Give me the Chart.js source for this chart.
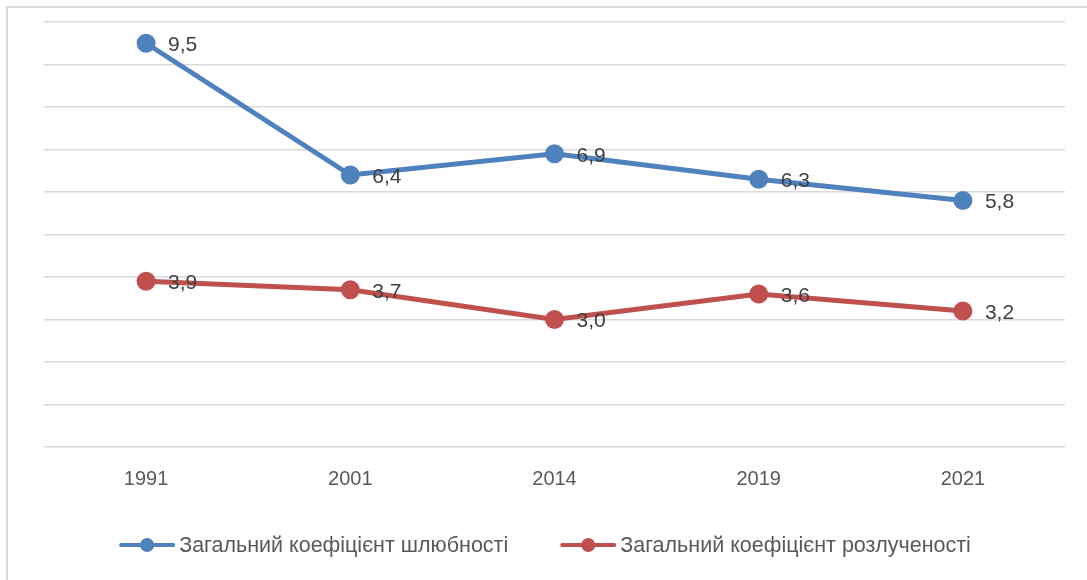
<!DOCTYPE html>
<html>
<head>
<meta charset="utf-8">
<script src="https://cdn.jsdelivr.net/npm/chart.js@4"></script>
<style>
    html, body { margin: 0; padding: 0; background: #fff; }
    #wrap { position: relative; width: 1087px; height: 580px; }
    #frame { position: absolute; left: 6px; top: 6px; right: 0; bottom: 0;
             border-top: 2px solid #d9d9d9; border-left: 2px solid #d9d9d9; pointer-events: none; }
</style>
</head>
<body>
<div id="wrap">
    <canvas id="chart" width="1087" height="580"></canvas>
    <div id="frame"></div>
</div>
<script>
const years = ['1991', '2001', '2014', '2019', '2021'];
const marriageRate = [9.5, 6.4, 6.9, 6.3, 5.8];
const divorceRate = [3.9, 3.7, 3.0, 3.6, 3.2];

const FONT = '"Liberation Sans", sans-serif';

const valueLabels = {
    id: 'valueLabels',
    afterDatasetsDraw(chart) {
        const ctx = chart.ctx;
        ctx.save();
        ctx.font = '21px ' + FONT;
        ctx.fillStyle = '#404040';
        ctx.textAlign = 'left';
        ctx.textBaseline = 'middle';
        chart.data.datasets.forEach((ds, i) => {
            chart.getDatasetMeta(i).data.forEach((pt, j) => {
                const txt = ds.data[j].toFixed(1).replace('.', ',');
                ctx.fillText(txt, pt.x + 22, pt.y + 2);
            });
        });
        ctx.restore();
    }
};

// bottom legend: line-with-dot marker followed by the series name
const lineLegend = {
    id: 'lineLegend',
    afterDraw(chart) {
        const ctx = chart.ctx;
        const y = 545;
        const markerW = 56, textGap = 4, itemGap = 52;
        ctx.save();
        ctx.font = '21.5px ' + FONT;
        const items = chart.data.datasets.map(ds => ({
            ds: ds,
            w: ctx.measureText(ds.label).width
        }));
        let total = 0;
        items.forEach((it, i) => {
            total += markerW + textGap + it.w + (i ? itemGap : 0);
        });
        let x = 545 - total / 2;
        items.forEach(it => {
            const color = it.ds.borderColor;
            ctx.strokeStyle = color;
            ctx.lineWidth = 4;
            ctx.lineCap = 'round';
            ctx.beginPath();
            ctx.moveTo(x + 2, y);
            ctx.lineTo(x + markerW - 2, y);
            ctx.stroke();
            ctx.fillStyle = color;
            ctx.beginPath();
            ctx.arc(x + markerW / 2, y, 7, 0, Math.PI * 2);
            ctx.fill();
            ctx.fillStyle = '#595959';
            ctx.textAlign = 'left';
            ctx.textBaseline = 'middle';
            ctx.fillText(it.ds.label, x + markerW + textGap, y + 1);
            x += markerW + textGap + it.w + itemGap;
        });
        ctx.restore();
    }
};

new Chart(document.getElementById('chart').getContext('2d'), {
    type: 'line',
    data: {
        labels: years,
        datasets: [{
            label: 'Загальний коефіцієнт шлюбності',
            data: marriageRate,
            borderColor: '#4f81bd',
            backgroundColor: '#4f81bd',
            borderWidth: 5,
            pointRadius: 7,
            pointHoverRadius: 7
        }, {
            label: 'Загальний коефіцієнт розлученості',
            data: divorceRate,
            borderColor: '#c0504d',
            backgroundColor: '#c0504d',
            borderWidth: 5,
            pointRadius: 7,
            pointHoverRadius: 7
        }]
    },
    options: {
        responsive: false,
        animation: false,
        layout: { padding: { left: 44, right: 22, top: 22, bottom: 69 } },
        scales: {
            x: {
                offset: true,
                grid: { display: false, drawTicks: false },
                border: { display: false },
                ticks: { padding: 20, color: '#595959', font: { family: FONT, size: 20 } }
            },
            y: {
                min: 0,
                max: 10,
                grid: { color: '#d9d9d9', lineWidth: 1.5, drawTicks: false },
                border: { display: false },
                ticks: { display: false, stepSize: 1 }
            }
        },
        plugins: {
            tooltip: { enabled: false },
            legend: { display: false }
        }
    },
    plugins: [valueLabels, lineLegend]
});
</script>
</body>
</html>
